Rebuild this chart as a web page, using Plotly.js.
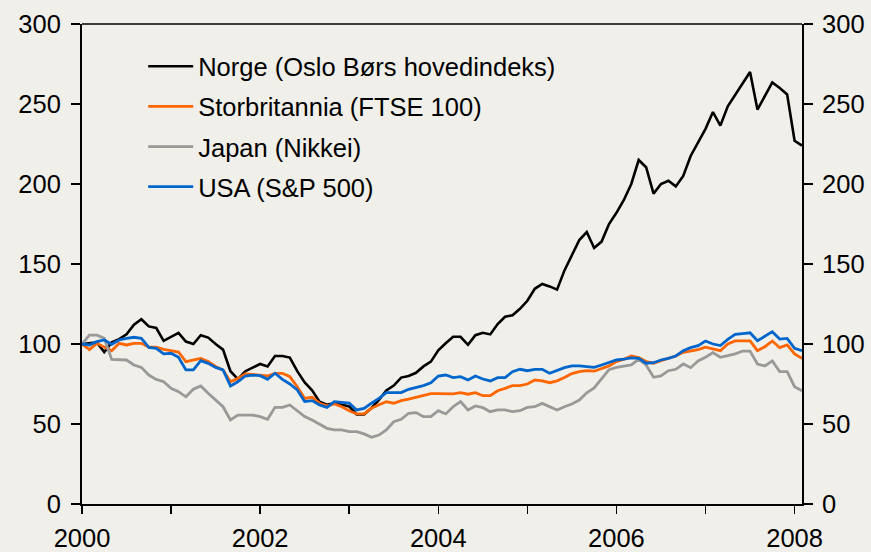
<!DOCTYPE html>
<html>
<head>
<meta charset="utf-8">
<script src="https://cdn.plot.ly/plotly-3.0.1.min.js"></script>
<style>
html,body{margin:0;padding:0;background:#f0efe9;}
#chart{width:871px;height:552px;}
</style>
</head>
<body>
<div id="chart"></div>
<script>
// Monthly index values, January 2000 = 100, Jan 2000 .. Feb 2008
const startYear = 2000;
const seriesNames = ['Norge (Oslo Børs hovedindeks)', 'Storbritannia (FTSE 100)', 'Japan (Nikkei)', 'USA (S&P 500)'];
const seriesColors = ['#000000', '#ff6600', '#999999', '#0066cc'];

const norge = [100,100.5,101,95,101,103,106,112,115.5,111,110,102,104.5,107,101.5,100,105.5,104,100,96.5,
  83,78,83,85,87.5,86,92.5,92.5,91.5,83,76,71,64,62,63,62,61,56,56,60,
  65,71,74,79,80,82,86,89,96,100.5,104.5,104.5,99.5,105.5,107,106,112.5,117,118,122,
  127,134.5,137.5,136,134,146,156,165,170,160,164,175,182,190,200,215,210.5,194,200,202,
  198.5,205,217.5,226,234.5,245,236.5,248.5,255.5,263,270,246.5,255.5,263.5,260,256,227,224];

const storbritannia = [100,96.5,100.4,98.3,95.8,100.4,99.4,100.4,100.4,98,98,96.7,95.8,95,89,90,91,89,86,83.7,
  76.4,78.5,81.3,81,80.6,80,81.7,81.7,79.6,73.3,66,66.7,63,61.3,62.5,60.8,58.3,56.3,56.3,59.8,
  62,64,63,64.6,65.6,66.7,67.5,69,69,68.8,68.8,69.6,68.6,69.6,67.7,67.7,70.8,72.3,74,74,
  75,77.5,77,75.8,77,79,81.5,82.7,83.3,83,84.8,86.3,89,90.5,92.5,91.5,89,88,89.6,91,
  92.5,94.8,95.6,96.5,98,97,95.8,100,101.9,101.9,101.9,95.8,98.3,101.9,97.7,99.4,93.8,91];

const japan = [100,105.6,105.6,103.5,90.4,90.4,90,86.9,85.4,80.6,77.9,76.4,72.3,70.2,67,71.7,73.8,69.2,65,60.8,
  52.5,55.6,55.6,55.6,54.6,52.9,60.4,60.4,61.9,58.3,54.6,52.5,50,47.3,46.3,46.3,45.2,45.2,43.8,41.7,
  43.1,46.3,51.4,52.9,56.7,57.1,54.6,54.6,58.3,56.3,60.8,64,58.8,61.3,60.2,57.7,58.8,58.8,57.7,58.3,
  60.4,60.8,62.9,60.8,58.8,60.8,62.5,65,69.5,72.5,78.5,84,85.4,86.3,86.9,90.4,86.9,79.2,80,83.3,
  84.2,87.5,85.2,89.4,91.7,94.6,91.7,92.7,93.8,95.6,95.6,87.5,86.3,89.4,82.7,82.7,73.3,70.8];

const usa = [100,99.4,101.5,102.5,99.8,102.5,103.5,104.2,103.5,97.9,97.3,93.8,94.2,91.7,83.8,83.8,89.6,87.9,85.4,83.8,
  73.8,76.4,80,80.6,80.2,77.9,81.7,77.9,75,71.3,64,64.6,61.9,60.4,64,63.3,63,58.8,59.8,63,
  66,69.6,69.6,69.6,71.7,73,74,75.8,80,80.6,79,79.6,77.5,80,78.1,76.9,79,79,82.7,84.2,
  83.3,84.2,84.2,81.7,83.3,85.2,86.3,86.3,85.8,85.4,86.9,88.5,90,90.5,91.3,91,88,88.3,90,91,
  92.5,95.8,97.7,99,101.9,100,99,102.9,106,106.5,107,102,105,107.7,103.1,103.5,97.3,95.8];

const xTickVals = [2000,2001,2002,2003,2004,2005,2006,2007,2008];
const xTickText = ['2000','','2002','','2004','','2006','','2008'];
const yTickVals = [0,50,100,150,200,250,300];

const allSeries = [norge, storbritannia, japan, usa];
const months = norge.map((_, i) => startYear + i / 12);

const traces = allSeries.map((vals, k) => ({
  x: months,
  y: vals,
  type: 'scatter',
  mode: 'lines',
  name: seriesNames[k],
  legendgroup: 'g' + k,
  line: {color: seriesColors[k], width: k === 0 ? 2.6 : 2.8}
}));
// invisible trace to anchor the right-hand axis
traces.push({x: [startYear], y: [null], yaxis: 'y2', showlegend: false, hoverinfo: 'skip', mode: 'lines'});

const fontFam = '"Liberation Sans", Arial, sans-serif';
const tickFont = {family: fontFam, size: 25.5, color: '#000'};
const layout = {
  width: 871, height: 552,
  paper_bgcolor: '#f0efe9', plot_bgcolor: '#f0efe9',
  margin: {l: 82, r: 69, t: 24, b: 48},
  font: {family: fontFam, size: 25.5, color: '#000'},
  showlegend: true,
  legend: {
    x: 0.085, y: 0.96, xanchor: 'left', yanchor: 'top',
    bgcolor: 'rgba(0,0,0,0)', borderwidth: 0,
    font: {family: fontFam, size: 25.5, color: '#000'},
    tracegroupgap: 4, itemwidth: 45, traceorder: 'grouped'
  },
  xaxis: {
    range: [2000, 2008 + 1/12], tickvals: xTickVals, ticktext: xTickText,
    ticks: 'outside', ticklen: 8, tickwidth: 1.5, tickcolor: '#000',
    showline: true, linecolor: '#000', linewidth: 2, mirror: false,
    showgrid: false, zeroline: false, ticklabelstandoff: 2,
    tickfont: tickFont
  },
  yaxis: {
    range: [0, 300], tickvals: yTickVals,
    ticks: 'outside', ticklen: 9, tickwidth: 1.5, tickcolor: '#000',
    showline: true, linecolor: '#000', linewidth: 2,
    showgrid: false, zeroline: false, ticklabelstandoff: 5,
    tickfont: tickFont
  },
  yaxis2: {
    range: [0, 300], tickvals: yTickVals, overlaying: 'y', side: 'right',
    ticks: 'outside', ticklen: 9, tickwidth: 1.5, tickcolor: '#000',
    showline: true, linecolor: '#000', linewidth: 2,
    showgrid: false, zeroline: false, ticklabelstandoff: 4,
    tickfont: tickFont
  },
  shapes: [{type: 'line', xref: 'paper', yref: 'paper', x0: 0, x1: 1, y0: 1, y1: 1, line: {color: '#000', width: 1.5}}]
};

Plotly.newPlot('chart', traces, layout, {staticPlot: true, displayModeBar: false});
</script>
</body>
</html>
